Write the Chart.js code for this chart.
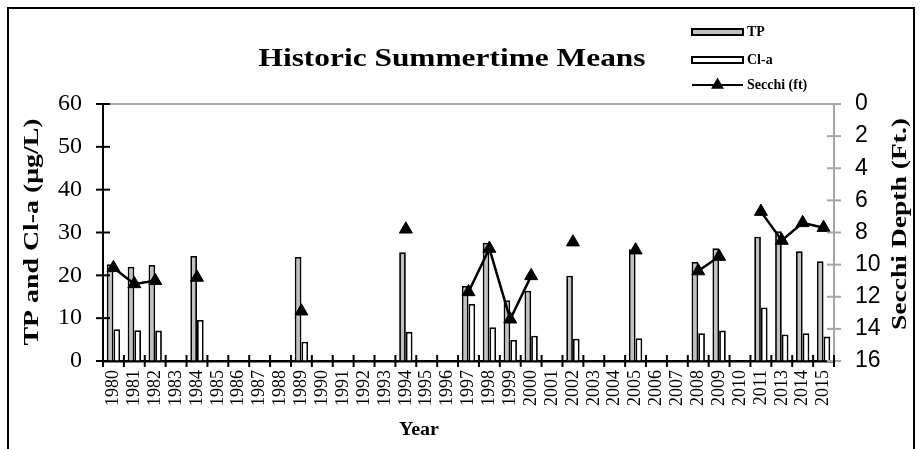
<!DOCTYPE html>
<html>
<head>
<meta charset="utf-8">
<script src="https://cdn.jsdelivr.net/npm/chart.js@4.4.1/dist/chart.umd.min.js"></script>
<style>
html,body{margin:0;padding:0;background:#fff;}
#wrap{position:relative;width:920px;height:449px;overflow:hidden;}
#frame{position:absolute;left:7px;top:7px;width:908px;height:460px;border:2px solid #000;box-sizing:border-box;pointer-events:none;}
canvas{position:absolute;left:0;top:0;}
</style>
</head>
<body>
<div id="wrap">
<canvas id="c" width="920" height="449"></canvas>
<div id="frame"></div>
</div>
<script>
// ---- data ----
const years = ['1980','1981','1982','1983','1984','1985','1986','1987','1988','1989',
  '1990','1991','1992','1993','1994','1995','1996','1997','1998','1999',
  '2000','2001','2002','2003','2004','2005','2006','2007','2008','2009',
  '2010','2011','2013','2014','2015'];
const tpValues = [22.6,22.0,22.4,null,24.5,null,null,null,null,24.3,
  null,null,null,null,25.4,null,null,17.5,27.6,14.2,
  16.4,null,19.9,null,null,26.1,null,null,23.1,26.3,
  null,29.0,30.3,25.6,23.3];
const chlaValues = [7.4,7.2,7.1,null,9.6,null,null,null,null,4.5,
  null,null,null,null,6.8,null,null,13.3,7.9,4.9,
  5.9,null,5.2,null,null,5.3,null,null,6.5,7.1,
  null,12.5,6.2,6.5,5.7];
const secchiValues = [10.2,11.2,11.0,null,10.8,null,null,null,null,12.9,
  null,null,null,null,7.8,null,null,11.7,9.0,13.4,
  10.7,null,8.6,null,null,9.1,null,null,10.4,9.5,
  null,6.7,8.5,7.4,7.7];
const leftTicks = [0,10,20,30,40,50,60];
const rightTicks = [0,2,4,6,8,10,12,14,16];

const titleText = 'Historic Summertime Means';
const leftTitle = 'TP and Cl-a (\u03bcg/L)';
const rightTitle = 'Secchi Depth (Ft.)';
const xTitle = 'Year';
const legendLabels = ['TP','Cl-a','Secchi (ft)'];

const SERIF = '"Liberation Serif", "Times New Roman", serif';
const SANS = '"Liberation Sans", Arial, sans-serif';
const TP_FILL = '#c0c0c0';

function fitText(ctx, text, x, y, rot, font, target){
  ctx.save();
  ctx.font = font;
  const w = ctx.measureText(text).width;
  ctx.translate(x, y);
  ctx.rotate(rot);
  ctx.scale(target / w, 1);
  ctx.textAlign = 'center';
  ctx.textBaseline = 'middle';
  ctx.fillStyle = '#000';
  ctx.fillText(text, 0, 0);
  ctx.restore();
}

const decor = {
  id: 'decor',
  afterDraw(chart){
    const ctx = chart.ctx;
    const a = chart.chartArea;
    const sy = chart.scales.y, sy1 = chart.scales.y1, sx = chart.scales.x;
    ctx.save();
    // top gray border of plot area
    ctx.strokeStyle = '#a6a6a6';
    ctx.lineWidth = 2;
    ctx.beginPath(); ctx.moveTo(a.left, a.top); ctx.lineTo(a.right, a.top); ctx.stroke();
    // left ticks (crossing)
    ctx.strokeStyle = '#000';
    ctx.lineWidth = 2;
    sy.ticks.forEach(t => {
      const yy = sy.getPixelForValue(t.value);
      ctx.beginPath(); ctx.moveTo(a.left - 7, yy); ctx.lineTo(a.left + 7, yy); ctx.stroke();
    });
    // right ticks
    ctx.strokeStyle = '#a6a6a6';
    sy1.ticks.forEach(t => {
      const yy = sy1.getPixelForValue(t.value);
      ctx.beginPath(); ctx.moveTo(a.right - 7, yy); ctx.lineTo(a.right + 7, yy); ctx.stroke();
    });
    // x ticks at category boundaries
    ctx.strokeStyle = '#000';
    const n = years.length;
    for (let i = 0; i <= n; i++) {
      const xx = a.left + (a.right - a.left) * i / n;
      ctx.beginPath(); ctx.moveTo(xx, a.bottom - 6); ctx.lineTo(xx, a.bottom + 6); ctx.stroke();
    }
    ctx.restore();

    // titles
    fitText(ctx, titleText, 452, 60, 0, 'bold 25px ' + SERIF, 387);
    fitText(ctx, leftTitle, 33, 232, -Math.PI/2, 'bold 21px ' + SERIF, 227);
    fitText(ctx, rightTitle, 901, 224, -Math.PI/2, 'bold 21px ' + SERIF, 212);
    fitText(ctx, xTitle, 419, 430, 0, 'bold 18px ' + SERIF, 40);

    // legend
    ctx.save();
    ctx.lineWidth = 2;
    ctx.strokeStyle = '#000';
    ctx.fillStyle = TP_FILL;
    ctx.fillRect(692, 29, 51, 6); ctx.strokeRect(692, 29, 51, 6);
    ctx.fillStyle = '#fff';
    ctx.fillRect(692, 57, 51, 6); ctx.strokeRect(692, 57, 51, 6);
    ctx.beginPath(); ctx.moveTo(692, 85); ctx.lineTo(743, 85); ctx.stroke();
    const r = 7.5, cx = 717.5, cy = 85;
    ctx.fillStyle = '#000';
    ctx.beginPath();
    ctx.moveTo(cx, cy - r);
    ctx.lineTo(cx + r * Math.sin(2*Math.PI/3), cy - r * Math.cos(2*Math.PI/3));
    ctx.lineTo(cx + r * Math.sin(4*Math.PI/3), cy - r * Math.cos(4*Math.PI/3));
    ctx.closePath(); ctx.fill();
    ctx.font = 'bold 14px ' + SERIF;
    ctx.textAlign = 'left'; ctx.textBaseline = 'middle';
    ctx.fillText(legendLabels[0], 747, 32);
    ctx.fillText(legendLabels[1], 747, 60);
    ctx.fillText(legendLabels[2], 747, 85);
    ctx.restore();
  }
};

new Chart(document.getElementById('c'), {
  type: 'bar',
  data: {
    labels: years,
    datasets: [
      { type: 'line', label: legendLabels[2], data: secchiValues, yAxisID: 'y1', order: 0,
        borderColor: '#000', borderWidth: 2.5, backgroundColor: '#000',
        pointStyle: 'triangle', pointRadius: 7.5, pointBorderWidth: 1,
        pointBackgroundColor: '#000', pointBorderColor: '#000',
        spanGaps: false, tension: 0, fill: false },
      { label: legendLabels[0], data: tpValues, yAxisID: 'y', order: 1,
        backgroundColor: TP_FILL, borderColor: '#000', borderWidth: 1.8,
        categoryPercentage: 0.64, barPercentage: 1.0 },
      { label: legendLabels[1], data: chlaValues, yAxisID: 'y', order: 1,
        backgroundColor: '#fff', borderColor: '#000', borderWidth: 1.8,
        categoryPercentage: 0.64, barPercentage: 1.0 }
    ]
  },
  options: {
    responsive: false,
    animation: false,
    devicePixelRatio: 1,
    layout: { padding: { top: 104, bottom: 0, left: 0, right: 0 } },
    plugins: { legend: { display: false }, title: { display: false }, tooltip: { enabled: false } },
    scales: {
      x: {
        offset: true,
        grid: { display: true, drawOnChartArea: false, color: 'transparent', tickLength: 6, offset: true },
        border: { display: true, color: '#000', width: 2.5 },
        ticks: { autoSkip: false, maxRotation: 90, minRotation: 90, padding: 3,
          color: '#000', font: { family: SERIF, size: 18 } },
        afterFit: s => { s.height = 88; }
      },
      y: {
        position: 'left', min: 0, max: 60,
        afterBuildTicks: s => { s.ticks = leftTicks.map(v => ({ value: v })); },
        grid: { display: true, drawOnChartArea: false, color: 'transparent', tickLength: 7 },
        border: { display: true, color: '#000', width: 2 },
        ticks: { padding: 14, color: '#000', font: { family: SERIF, size: 24 } },
        afterFit: s => { s.width = 103; }
      },
      y1: {
        position: 'right', min: 0, max: 16, reverse: true,
        afterBuildTicks: s => { s.ticks = rightTicks.map(v => ({ value: v })); },
        grid: { display: true, drawOnChartArea: false, color: 'transparent', tickLength: 7 },
        border: { display: true, color: '#a6a6a6', width: 2 },
        ticks: { padding: 14, color: '#000', font: { family: SANS, size: 23 } },
        afterFit: s => { s.width = 86; }
      }
    }
  },
  plugins: [decor]
});
</script>
</body>
</html>
